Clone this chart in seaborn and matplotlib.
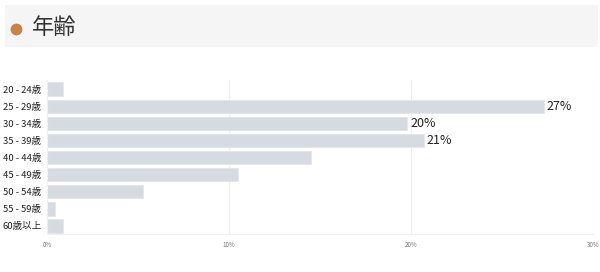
import matplotlib
matplotlib.use("Agg")
import matplotlib.pyplot as plt
import seaborn as sns
import pandas as pd
from matplotlib.patches import Rectangle
from matplotlib.lines import Line2D

categories = ["20 - 24歳", "25 - 29歳", "30 - 34歳", "35 - 39歳", "40 - 44歳",
              "45 - 49歳", "50 - 54歳", "55 - 59歳", "60歳以上"]
values = [0.9, 27.3, 19.8, 20.7, 14.5, 10.5, 5.3, 0.45, 0.9]
value_labels = ["", "27%", "20%", "21%", "", "", "", "", ""]
x_ticks = [0, 10, 20, 30]
x_tick_labels = ["0%", "10%", "20%", "30%"]
title = "年齢"

sns.set_style("white")
plt.rcParams['font.family'] = ['Noto Sans CJK JP', 'DejaVu Sans']

fig = plt.figure(figsize=(6, 2.72), dpi=100)
# header band
fig.patches.append(Rectangle((5/600, 1-47/272), 593/600, 42/272, transform=fig.transFigure,
                             facecolor="#f5f5f5", edgecolor="none", zorder=0))
fig.add_artist(Line2D([16/600], [1-29/272], transform=fig.transFigure, marker="o",
                      markersize=7.5, color="#c8824a", linestyle="none"))
fig.text(32/600, 1-28/272, title, fontsize=16, color="#333333", va="center", ha="left")

ax = fig.add_axes([47/600, 1-234/272, 546/600, 154/272])
df = pd.DataFrame({"cat": categories, "val": values})
sns.barplot(data=df, x="val", y="cat", ax=ax, color="#d5dbe1", saturation=1,
            width=0.78, edgecolor="#e2e7ec", linewidth=0.6, zorder=2)
ax.set_xlim(0, 30)
ax.set_ylim(8.47, -0.53)
ax.set_xticks(x_ticks)
ax.set_xticklabels(x_tick_labels, fontsize=4.5, color="#777777")
ax.tick_params(axis="y", labelsize=6.8, colors="#222222", length=0, pad=4)
ax.tick_params(axis="x", length=0, pad=5)
ax.set_xlabel("")
ax.set_ylabel("")
ax.grid(axis="x", color="#efefef", linewidth=0.8, zorder=0)
ax.set_axisbelow(True)
for s in ["top", "right"]:
    ax.spines[s].set_visible(False)
for s in ["left", "bottom"]:
    ax.spines[s].set_color("#efefef")
    ax.spines[s].set_linewidth(0.8)

for i, (v, lab) in enumerate(zip(values, value_labels)):
    if lab:
        ax.text(v + 0.15, i, lab, va="center", ha="left", fontsize=9, color="#222222")

fig.savefig("out.png", dpi=100)
